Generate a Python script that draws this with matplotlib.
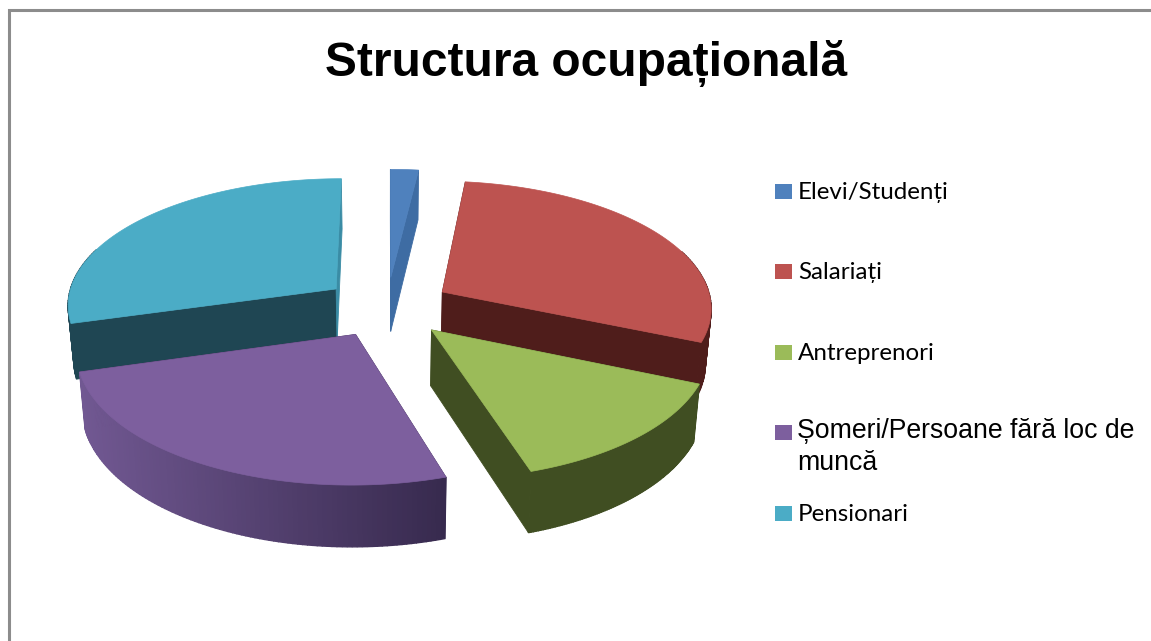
import numpy as np
import matplotlib
matplotlib.use("Agg")
import matplotlib.pyplot as plt
from matplotlib.colors import to_rgb

# ---- data ----
title = "Structura ocupațională"
categories = ["Elevi/Studenți", "Salariați", "Antreprenori",
              "Șomeri/Persoane fără loc de\nmuncă", "Pensionari"]
shares = [1.9, 29.5, 13.7, 25.5, 29.4]
top_colors = ["#4F81BD", "#BD5350", "#9BBB59", "#7D5F9E", "#4BACC6"]
cut_colors = ["#3E6CA3", "#4F1D1B", "#404E22", "#3A2C50", "#1F4653"]
end_cut_colors = ["#3E6CA3", "#4F1D1B", "#404E22", "#3A2C50", "#3A8CA5"]
rim_left = ["#3E6CA3", "#4F1D1B", "#404E22", "#715892", "#1F4653"]
rim_right = ["#3E6CA3", "#4F1D1B", "#404E22", "#372A4E", "#1F4653"]
legend_y = [191.5, 271.5, 352.5, 432.5, 513.5]

# ---- projection of the exploded 3D pie ----
XC, YC = 387.0, 307.0
A, B, P = 270.0, 126.7, 0.114
EXPLODE = 0.24


def top_xy(gx, gy):
    s = 1.0 / (1.0 + P * gy)
    return XC + A * gx * s, YC - B * gy * s


def bottom_xy(x, y):
    return XC + 0.982 * (x - XC), y + 55.0 + 0.038 * (y - YC)


fig = plt.figure(figsize=(11.51, 6.41), dpi=100, facecolor="white")
ax = fig.add_axes([0, 0, 1, 1])
ax.set_xlim(0, 1151)
ax.set_ylim(641, 0)
ax.axis("off")

fractions = np.asarray(shares) / np.sum(shares)
edges = np.concatenate([[0.0], np.cumsum(fractions)]) * 2 * np.pi


def quad(xa, ya, xb, yb, color, z, lw=0.6):
    bxb, byb = bottom_xy(xb, yb)
    bxa, bya = bottom_xy(xa, ya)
    ax.fill([xa, xb, bxb, bxa], [ya, yb, byb, bya], facecolor=color,
            edgecolor=color, lw=lw, zorder=z)


for i in [0, 4, 1, 2, 3]:
    t0, t1 = edges[i], edges[i + 1]
    mid = 0.5 * (t0 + t1)
    ox, oy = EXPLODE * np.sin(mid), EXPLODE * np.cos(mid)
    th = np.linspace(t0, t1, 100)
    gx = ox + np.sin(th)
    gy = oy + np.cos(th)
    ax_x, ax_y = top_xy(gx, gy)
    tx, ty = top_xy(ox, oy)
    z = 2 + [0, 4, 1, 2, 3].index(i) * 3
    # cut walls
    quad(tx, ty, ax_x[0], ax_y[0], cut_colors[i], z)
    quad(tx, ty, ax_x[-1], ax_y[-1], end_cut_colors[i], z)
    # outer rim, shaded left to right
    c0, c1 = np.array(to_rgb(rim_left[i])), np.array(to_rgb(rim_right[i]))
    xmin, xmax = ax_x.min(), ax_x.max()
    for k in range(len(th) - 1):
        if np.cos(th[k]) < 0.35 and np.cos(th[k + 1]) < 0.35:
            w = (0.5 * (ax_x[k] + ax_x[k + 1]) - xmin) / max(xmax - xmin, 1)
            quad(ax_x[k], ax_y[k], ax_x[k + 1], ax_y[k + 1],
                 c0 + (c1 - c0) * w, z + 1, lw=1.0)
    # top face
    ax.fill(np.r_[tx, ax_x], np.r_[ty, ax_y], facecolor=top_colors[i],
            edgecolor=top_colors[i], lw=0.5, zorder=z + 2)

# frame
ax.plot([9.5, 9.5, 1151], [641, 10, 10], color="#8C8C8C", lw=2.2, zorder=1,
        solid_joinstyle="miter")

ax.text(586, 76, title, ha="center", va="baseline", fontsize=34.5,
        fontweight="bold", family="Liberation Sans", color="black")

for name, col, y in zip(categories, top_colors, legend_y):
    ax.fill([775, 792, 792, 775], [y - 7.5, y - 7.5, y + 7.5, y + 7.5],
            facecolor=col, edgecolor="none", zorder=30)
    if "\n" in name:
        for n, line in enumerate(name.split("\n")):
            ax.text(797, y + 6 + 32 * n, line, ha="left", va="baseline",
                    fontsize=19.2, family="Liberation Sans", color="black")
    else:
        ax.text(798, y + 7.5, name, ha="left", va="baseline", fontsize=17.4,
                family="Lato", color="black")

fig.savefig("out.png", dpi=100, facecolor="white")
